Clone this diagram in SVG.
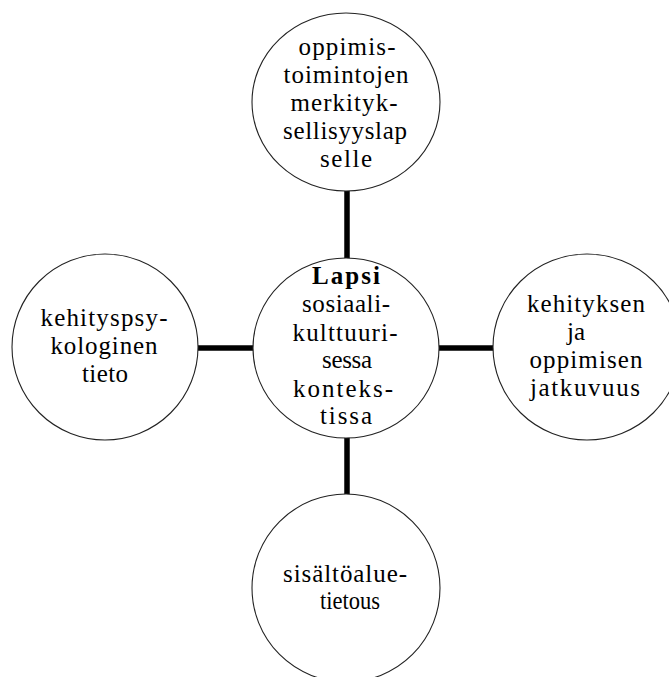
<svg xmlns="http://www.w3.org/2000/svg" width="669" height="677" viewBox="0 0 669 677">
<style>
.node ellipse{fill:#fff;stroke:#222;stroke-width:1.1}
.node text{font-family:'Liberation Serif','Times New Roman','DejaVu Serif',serif;font-size:25px;fill:#000;text-anchor:middle}
.conn line{stroke:#000;stroke-width:5.5}
.b{font-weight:bold}
</style>
<rect width="669" height="677" fill="#fff"/>
<g class="conn" id="connectors">
<line x1="347" y1="191" x2="347" y2="259"/>
<line x1="347" y1="437" x2="347" y2="495"/>
<line x1="198" y1="348" x2="254" y2="348"/>
<line x1="439" y1="348" x2="494" y2="348"/>
</g>
<g class="node" id="top">
<ellipse cx="346" cy="102" rx="94" ry="89"/>
<text x="347" y="55" textLength="97" lengthAdjust="spacing">oppimis-</text>
<text x="346" y="83" textLength="125" lengthAdjust="spacing">toimintojen</text>
<text x="344" y="111" textLength="107" lengthAdjust="spacing">merkityk-</text>
<text x="345" y="139" textLength="124" lengthAdjust="spacing">sellisyyslap</text>
<text x="346" y="167" textLength="52" lengthAdjust="spacing">selle</text>
</g>
<g class="node" id="center">
<ellipse cx="346" cy="348" rx="93" ry="90"/>
<text class="b" x="346" y="284" textLength="68" lengthAdjust="spacing">Lapsi</text>
<text x="346" y="312" textLength="88" lengthAdjust="spacing">sosiaali-</text>
<text x="345" y="341" textLength="105" lengthAdjust="spacing">kulttuuri-</text>
<text x="347" y="368" textLength="50" lengthAdjust="spacing">sessa</text>
<text x="343" y="397" textLength="100" lengthAdjust="spacing">konteks-</text>
<text x="346" y="424" textLength="52" lengthAdjust="spacing">tissa</text>
</g>
<g class="node" id="left">
<ellipse cx="105" cy="347" rx="93" ry="93"/>
<text x="104" y="326" textLength="127" lengthAdjust="spacing">kehityspsy-</text>
<text x="104" y="354" textLength="107" lengthAdjust="spacing">kologinen</text>
<text x="105" y="382" textLength="46" lengthAdjust="spacing">tieto</text>
</g>
<g class="node" id="right">
<ellipse cx="587" cy="347" rx="94" ry="93"/>
<text x="586" y="312" textLength="118" lengthAdjust="spacing">kehityksen</text>
<text x="576" y="340">ja</text>
<text x="586" y="368" textLength="113" lengthAdjust="spacing">oppimisen</text>
<text x="585" y="396" textLength="110" lengthAdjust="spacing">jatkuvuus</text>
</g>
<g class="node" id="bottom">
<ellipse cx="346" cy="588" rx="94" ry="94"/>
<text x="345" y="582" textLength="124" lengthAdjust="spacing">sisältöalue-</text>
<text x="350" y="609" textLength="60" lengthAdjust="spacingAndGlyphs">tietous</text>
</g>
</svg>
